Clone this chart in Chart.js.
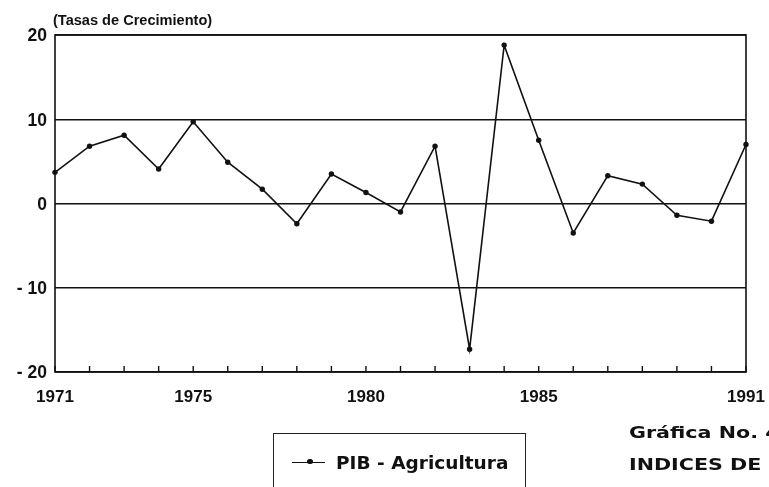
<!DOCTYPE html>
<html>
<head>
<meta charset="utf-8">
<script src="https://cdn.jsdelivr.net/npm/chart.js@4.4.0/dist/chart.umd.min.js"></script>
<style>
  html, body { margin: 0; padding: 0; background: #fff; }
  #wrap { position: relative; width: 769px; height: 487px; overflow: hidden; font-weight: bold; color: #111; }
  #c { position: absolute; left: 0; top: 0; }
  .txt { position: absolute; white-space: nowrap; transform-origin: 0 0; }
  #title { left: 53px; top: 13px; font-family: "Liberation Sans", Arial, sans-serif; font-size: 14px; line-height: 1; transform: scaleX(1.04); }
  #legend { position: absolute; left: 273px; top: 433px; width: 253px; height: 70px; border: 1.5px solid #222; box-sizing: border-box; }
  #legend .sym { position: absolute; left: 18px; top: 27.5px; width: 33px; height: 0; border-top: 1.6px solid #111; }
  #legend .dot { position: absolute; left: 15px; top: -3.6px; width: 5.5px; height: 5.5px; border-radius: 50%; background: #111; }
  #legend .lab { left: 62px; top: 21px; font-family: "DejaVu Sans", sans-serif; font-size: 17.4px; line-height: 1; transform: scaleX(1.065); }
  #note { left: 629px; top: 417px; font-family: "DejaVu Sans", sans-serif; font-size: 16px; line-height: 31.7px; transform: scaleX(1.29); }
</style>
</head>
<body>
<div id="wrap">
  <canvas id="c" width="769" height="487"></canvas>
  <div id="title" class="txt">(Tasas de Crecimiento)</div>
  <div id="legend"><div class="sym"><div class="dot"></div></div><div class="lab txt">PIB - Agricultura</div></div>
  <div id="note" class="txt">Gráfica No. 4<br>INDICES DE PRODUCCION<br>AGRICOLA</div>
</div>
<script>
const years = [1971,1972,1973,1974,1975,1976,1977,1978,1979,1980,1981,1982,1983,1984,1985,1986,1987,1988,1989,1990,1991];
const pibAgricultura = [3.7,6.8,8.1,4.1,9.7,4.9,1.7,-2.4,3.5,1.3,-1.0,6.8,-17.3,18.8,7.5,-3.5,3.3,2.3,-1.4,-2.1,7.0];
const xTickLabels = ['1971','1975','1980','1985','1991'];
const yTicks = [20,10,0,-10,-20];

const INK = '#111';
const fontFam = '"Liberation Sans", Arial, sans-serif';

const framePlugin = {
  id: 'frame',
  afterDatasetsDraw(chart) {
    const {ctx, chartArea: a, scales} = chart;
    ctx.save();
    ctx.strokeStyle = INK;
    ctx.lineWidth = 1.6;
    ctx.strokeRect(a.left, a.top, a.right - a.left, a.bottom - a.top);
    // inward tick marks on the x axis
    ctx.lineWidth = 1.4;
    ctx.beginPath();
    years.forEach(y => {
      const px = scales.x.getPixelForValue(y);
      ctx.moveTo(px, a.bottom);
      ctx.lineTo(px, a.bottom - 6);
    });
    ctx.stroke();
    ctx.restore();
  }
};

new Chart(document.getElementById('c'), {
  type: 'line',
  data: {
    datasets: [{
      label: 'PIB - Agricultura',
      data: years.map((y, i) => ({x: y, y: pibAgricultura[i]})),
      borderColor: INK,
      backgroundColor: INK,
      borderWidth: 1.6,
      pointRadius: 2.7,
      pointHoverRadius: 2.7,
      pointBackgroundColor: INK,
      pointBorderWidth: 0,
      tension: 0,
      clip: false
    }]
  },
  options: {
    responsive: false,
    animation: false,
    events: [],
    layout: { padding: { left: 0, top: 35, right: 23, bottom: 80 } },
    plugins: { legend: { display: false }, tooltip: { enabled: false } },
    scales: {
      x: {
        type: 'linear',
        min: 1971, max: 1991,
        afterBuildTicks(scale) { scale.ticks = years.map(v => ({value: v})); },
        afterFit(scale) { scale.height = 35; scale.paddingLeft = 0; scale.paddingRight = 0; },
        border: { display: false },
        grid: { display: false, drawTicks: false },
        ticks: {
          autoSkip: false, maxRotation: 0, padding: 15,
          color: INK,
          font: { family: fontFam, size: 17, weight: 'bold' },
          callback: v => xTickLabels.includes(String(v)) ? String(v) : ''
        }
      },
      y: {
        min: -20, max: 20,
        afterBuildTicks(scale) { scale.ticks = yTicks.map(v => ({value: v})); },
        afterFit(scale) { scale.width = 55; scale.paddingTop = 0; scale.paddingBottom = 0; },
        border: { display: false },
        grid: { color: INK, lineWidth: 1.5, drawTicks: false },
        ticks: {
          padding: 8,
          labelOffset: 1.5,
          color: INK,
          font: { family: fontFam, size: 17.5, weight: 'bold' },
          callback: v => v < 0 ? '- ' + String(-v) : String(v)
        }
      }
    }
  },
  plugins: [framePlugin]
});
</script>
</body>
</html>
